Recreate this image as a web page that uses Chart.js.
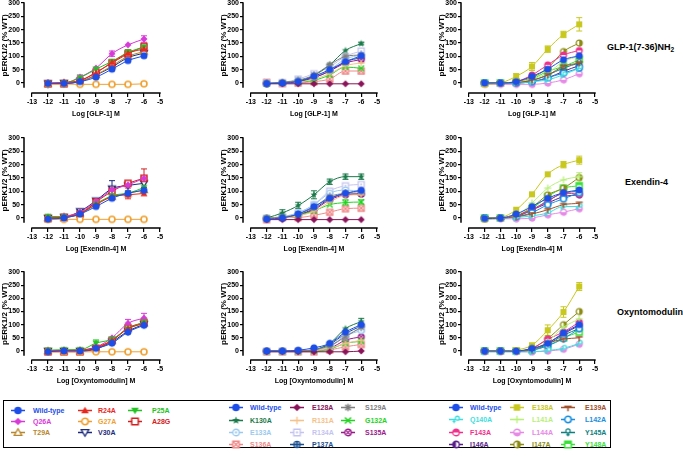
<!DOCTYPE html>
<html>
<head>
<meta charset="utf-8">
<script src="https://cdn.jsdelivr.net/npm/chart.js@4.4.1/dist/chart.umd.min.js"></script>
<style>
  html, body { margin:0; padding:0; background:#fff; }
  body { position:relative; width:683px; height:458px; overflow:hidden; font-family:"Liberation Sans", Arial, sans-serif; }
  canvas.panel { position:absolute; }
  .ligand { position:absolute; font-size:9px; font-weight:bold; color:#000; white-space:nowrap; line-height:12px; }
  .ligand sub { font-size:6.5px; vertical-align:-2px; line-height:0; }
  #legendBox { position:absolute; left:3px; top:400px; width:608px; height:48px; box-sizing:border-box; border:1.5px solid #000; }
  .lgMark { position:absolute; }
  .lgText { position:absolute; font-size:7px; font-weight:bold; white-space:nowrap; line-height:9px; }
</style>
</head>
<body>
<div id="legendBox"></div>
<script>
// ---------------- DATA ----------------
const doses = [-12, -11, -10, -9, -8, -7, -6];
const xTickValues = [-13, -12, -11, -10, -9, -8, -7, -6, -5];
const yTickValues = [0, 50, 100, 150, 200, 250, 300];
const xAxisTitles = ['Log [GLP-1] M', 'Log [Exendin-4] M', 'Log [Oxyntomodulin] M'];
const yAxisTitle = 'pERK1/2 (% WT)';
const ligandLabels = ['GLP-1(7-36)NH', 'Exendin-4', 'Oxyntomodulin'];
const ligandSubscripts = ['2', '', ''];

const groupA_names = ['Wild-type', 'R24A', 'P25A', 'Q26A', 'G27A', 'A28G', 'T29A', 'V30A'];
const groupB_names = ['Wild-type', 'E128A', 'S129A', 'K130A', 'R131A', 'G132A', 'E133A', 'R134A', 'S135A', 'S136A', 'P137A'];
const groupC_names = ['Wild-type', 'E138A', 'E139A', 'Q140A', 'L141A', 'L142A', 'F143A', 'L144A', 'Y145A', 'I146A', 'I147A', 'Y148A'];

// values at doses -12 ... -6 (rows follow the name lists)
const glp1_groupA_values = [
  [-2, -2, 5, 22, 52, 84, 102],
  [0, 2, 10, 38, 78, 112, 128],
  [-2, 0, 20, 52, 81, 115, 135],
  [0, 0, 22, 56, 110, 143, 165],
  [-4, -4, -5, -5, -5, -5, -3],
  [-3, -3, 8, 40, 75, 110, 137],
  [-2, 0, 5, 30, 65, 100, 118],
  [-2, 0, 5, 30, 60, 95, 112]
];
const glp1_groupB_values = [
  [-2, 0, 5, 25, 50, 80, 102],
  [-3, -3, -3, -3, -3, -3, -3],
  [0, 2, 10, 30, 68, 100, 105],
  [-3, 2, 8, 28, 68, 122, 148],
  [0, 0, 3, 15, 35, 65, 75],
  [-3, 0, 3, 10, 30, 60, 55],
  [-2, 0, 10, 25, 50, 90, 105],
  [0, 2, 15, 35, 60, 100, 120],
  [-2, 0, 5, 20, 45, 75, 88],
  [3, -2, 0, 5, 15, 45, 45],
  [-2, 0, 5, 20, 45, 80, 95]
];
const glp1_groupC_values = [
  [0, 0, 5, 25, 52, 87, 102],
  [-5, 0, 25, 62, 127, 182, 220],
  [0, 0, 2, 10, 30, 62, 75],
  [0, 0, 0, 5, 12, 31, 56],
  [0, 0, 3, 15, 37, 81, 100],
  [0, 0, 0, 5, 20, 37, 56],
  [0, 0, 5, 30, 68, 105, 122],
  [-5, -5, -5, -5, 0, 12, 35],
  [0, 0, 2, 10, 30, 56, 75],
  [0, 0, 0, 5, 19, 44, 65],
  [0, 0, 5, 20, 56, 118, 150],
  [0, 0, 3, 15, 44, 62, 87]
];
const ex4_groupA_values = [
  [-4, 0, 15, 43, 74, 93, 104],
  [0, 3, 18, 50, 80, 87, 92],
  [6, 5, 15, 52, 84, 93, 114],
  [0, 6, 22, 62, 105, 124, 149],
  [-5, -5, -5, -5, -5, -5, -5],
  [-2, 2, 15, 60, 100, 130, 149],
  [0, 2, 18, 55, 80, 93, 105],
  [0, 3, 25, 65, 110, 122, 130]
];
const ex4_groupB_values = [
  [-4, 0, 15, 43, 74, 93, 104],
  [-6, -6, -6, -6, -6, -6, -6],
  [0, 3, 15, 40, 80, 93, 100],
  [0, 19, 47, 87, 136, 155, 155],
  [0, 0, 8, 25, 60, 85, 87],
  [-2, 2, 10, 27, 50, 58, 60],
  [0, 5, 20, 50, 93, 105, 100],
  [0, 5, 19, 50, 101, 121, 126],
  [-2, 2, 12, 31, 68, 87, 90],
  [-6, 2, 2, 10, 22, 35, 37],
  [-2, 2, 12, 35, 72, 90, 90]
];
const ex4_groupC_values = [
  [-2, 0, 15, 43, 74, 95, 105],
  [-6, 0, 31, 89, 164, 200, 217],
  [0, 0, 5, 15, 31, 50, 55],
  [0, 0, 2, 8, 19, 43, 43],
  [0, 0, 8, 56, 112, 143, 155],
  [0, 0, 5, 20, 50, 72, 95],
  [0, 0, 8, 31, 62, 93, 90],
  [-3, -3, -3, 0, 12, 22, 35],
  [0, 0, 5, 30, 65, 93, 100],
  [0, 0, 8, 30, 56, 80, 87],
  [0, 0, 8, 40, 87, 112, 152],
  [0, 0, 8, 35, 80, 112, 121]
];
const oxm_groupA_values = [
  [-3, 0, 0, 10, 30, 72, 98],
  [0, 2, 3, 15, 40, 85, 105],
  [3, 5, 5, 30, 45, 85, 110],
  [0, 2, 3, 15, 50, 105, 125],
  [-3, -3, -3, -3, -3, -3, -3],
  [-3, -3, -3, 10, 40, 88, 108],
  [0, 0, 0, 10, 40, 85, 105],
  [0, 0, 0, 8, 35, 75, 102]
];
const oxm_groupB_values = [
  [0, 0, 3, 12, 29, 72, 100],
  [-3, -3, -3, -3, -3, -3, 0],
  [0, 0, 0, 5, 20, 54, 91],
  [0, 0, 0, 4, 29, 85, 112],
  [0, 0, 0, 2, 10, 29, 41],
  [-2, -2, -2, 0, 7, 29, 37],
  [0, 0, 0, 3, 15, 57, 78],
  [0, 0, 0, 3, 18, 60, 85],
  [0, 0, 0, 2, 10, 41, 54],
  [-3, -3, -3, -3, 4, 16, 25],
  [0, 0, 0, 5, 25, 66, 95]
];
const oxm_groupC_values = [
  [0, 0, 0, 10, 29, 69, 100],
  [0, 0, 4, 22, 79, 148, 245],
  [0, 0, 0, 5, 30, 45, 50],
  [-3, -3, -3, -3, 2, 10, 29],
  [0, 0, 0, 5, 35, 90, 122],
  [0, 0, 0, 3, 20, 47, 85],
  [0, 0, 0, 10, 45, 72, 110],
  [-3, -3, -3, -3, 0, 7, 26],
  [0, 0, 0, 5, 25, 60, 85],
  [0, 0, 0, 5, 30, 65, 97],
  [0, 0, 0, 10, 47, 100, 150],
  [0, 0, 0, 5, 20, 50, 72]
];

// error bars: [series index, dose index, SEM]
const glp1_groupA_err = [[3, 6, 12], [3, 4, 10], [5, 6, 10], [2, 5, 10], [3, 2, 8]];
const glp1_groupB_err = [[3, 6, 5], [7, 6, 8]];
const glp1_groupC_err = [[1, 6, 25], [1, 5, 12], [1, 4, 12], [1, 3, 15], [1, 2, 10]];
const ex4_groupA_err = [[5, 6, 35], [1, 5, 15], [7, 4, 30], [3, 5, 12], [5, 2, 10]];
const ex4_groupB_err = [[3, 6, 10], [3, 5, 10], [3, 4, 10], [3, 3, 15], [3, 2, 12], [3, 1, 12], [5, 5, 10], [5, 6, 8]];
const ex4_groupC_err = [[1, 6, 15], [1, 5, 12], [4, 6, 15]];
const oxm_groupA_err = [[3, 6, 18], [3, 5, 15], [2, 3, 12]];
const oxm_groupB_err = [[3, 6, 12]];
const oxm_groupC_err = [[1, 6, 15], [1, 5, 20], [1, 4, 20]];

// ---------------- STYLES ----------------
const groupA_colors = ['#1e4ee8', '#e8281e', '#22c322', '#d83ad8', '#f0a030', '#d22020', '#b8862b', '#1c2a7a'];
const groupA_markers = ['circle', 'triUp', 'triDown', 'diamond', 'circleOpen', 'squareOpen', 'triUpOpen', 'triDownOpen'];
const groupB_colors = ['#1e4ee8', '#8a1459', '#7f7f7f', '#1a7a4a', '#f5c28a', '#22d422', '#9ccaee', '#c4c4f0', '#9a1a8a', '#f08a8a', '#1a4f8f'];
const groupB_markers = ['circle', 'diamond', 'asterisk', 'star', 'plus', 'xmark', 'circleDot', 'squareDot', 'circleX', 'squareX', 'circleDots'];
const groupC_colors = ['#1e4ee8', '#c8c81e', '#a0522d', '#3ddede', '#b8f07a', '#1a8fe0', '#f0308c', '#e68ae6', '#0e7f7f', '#5a1e8a', '#8c8c14', '#3ae03a'];
const groupC_markers = ['circle', 'square', 'tee', 'hook', 'plus', 'circleOpen', 'halfTop', 'halfBottom', 'venus', 'halfLeft', 'halfRight', 'squareHalf'];

// ---------------- LAYOUT ----------------
const rowTop300 = [3, 138, 272];
const rowZero = [83, 218, 351];
const rowXAxisY = [93, 228, 360];
const colAxisX = [24, 243, 461];
const colX5 = [160, 377, 595];
const ligandLeft = [607, 625, 617];
const ligandMidY = [47, 182, 312];

const legendMarkX = [[18, 85, 135], [236, 297, 348], [456, 517, 568]];
const legendTextX = [[33, 98, 152], [250, 312, 365], [470, 532, 585]];
const legendRowY = [[410, 421, 432], [407, 420, 432, 444], [407, 419, 432, 444]];

// ---------------- MARKERS ----------------
function makeMarker(kind, color, r) {
  const s = Math.ceil(2 * r + 3);
  const cv = document.createElement('canvas');
  cv.width = s; cv.height = s;
  const g = cv.getContext('2d');
  const m = s / 2;
  g.lineWidth = 1.3; g.strokeStyle = color; g.fillStyle = color;
  const circle = (rr, cx, cy) => { g.beginPath(); g.arc(cx === undefined ? m : cx, cy === undefined ? m : cy, rr, 0, 2 * Math.PI); };
  const square = () => { g.beginPath(); g.rect(m - r * 0.85, m - r * 0.85, r * 1.7, r * 1.7); };
  const triUp = () => { g.beginPath(); g.moveTo(m, m - r); g.lineTo(m + r, m + r * 0.75); g.lineTo(m - r, m + r * 0.75); g.closePath(); };
  const triDown = () => { g.beginPath(); g.moveTo(m, m + r); g.lineTo(m + r, m - r * 0.75); g.lineTo(m - r, m - r * 0.75); g.closePath(); };
  const diamond = () => { g.beginPath(); g.moveTo(m, m - r); g.lineTo(m + r, m); g.lineTo(m, m + r); g.lineTo(m - r, m); g.closePath(); };
  const white = () => { g.fillStyle = '#fff'; g.fill(); g.fillStyle = color; };
  const line = (x1, y1, x2, y2) => { g.beginPath(); g.moveTo(x1, y1); g.lineTo(x2, y2); g.stroke(); };
  switch (kind) {
    case 'circle': circle(r); g.fill(); break;
    case 'circleOpen': circle(r * 0.85); white(); g.lineWidth = 1.6; g.stroke(); break;
    case 'triUp': triUp(); g.fill(); break;
    case 'triDown': triDown(); g.fill(); break;
    case 'triUpOpen': triUp(); white(); g.stroke(); break;
    case 'triDownOpen': triDown(); white(); g.stroke(); break;
    case 'diamond': diamond(); g.fill(); break;
    case 'square': square(); g.fill(); break;
    case 'squareOpen': square(); white(); g.lineWidth = 1.5; g.stroke(); break;
    case 'star': {
      g.beginPath();
      for (let i = 0; i < 10; i++) {
        const a = -Math.PI / 2 + i * Math.PI / 5;
        const rr = i % 2 === 0 ? r * 1.05 : r * 0.45;
        g.lineTo(m + rr * Math.cos(a), m + rr * Math.sin(a));
      }
      g.closePath(); g.fill(); break;
    }
    case 'asterisk':
      for (let i = 0; i < 4; i++) { const a = i * Math.PI / 4; line(m - r * Math.cos(a), m - r * Math.sin(a), m + r * Math.cos(a), m + r * Math.sin(a)); }
      break;
    case 'plus': line(m - r, m, m + r, m); line(m, m - r, m, m + r); break;
    case 'xmark': g.lineWidth = 1.5; line(m - r * 0.8, m - r * 0.8, m + r * 0.8, m + r * 0.8); line(m - r * 0.8, m + r * 0.8, m + r * 0.8, m - r * 0.8); break;
    case 'circleDot': circle(r * 0.85); white(); g.stroke(); circle(r * 0.3); g.fill(); break;
    case 'squareDot': square(); white(); g.stroke(); circle(r * 0.3); g.fill(); break;
    case 'circleX': circle(r * 0.85); white(); g.stroke();
      line(m - r * 0.55, m - r * 0.55, m + r * 0.55, m + r * 0.55); line(m - r * 0.55, m + r * 0.55, m + r * 0.55, m - r * 0.55); break;
    case 'squareX': square(); white(); g.stroke();
      line(m - r * 0.85, m - r * 0.85, m + r * 0.85, m + r * 0.85); line(m - r * 0.85, m + r * 0.85, m + r * 0.85, m - r * 0.85); break;
    case 'circleDots': circle(r); g.fill(); g.fillStyle = '#fff';
      [[-0.4, -0.4], [0.4, -0.4], [-0.4, 0.4], [0.4, 0.4]].forEach(([dx, dy]) => { circle(r * 0.2, m + dx * r, m + dy * r); g.fill(); });
      g.fillStyle = color; break;
    case 'tee': g.lineWidth = 1.5; line(m - r, m - r * 0.3, m + r, m - r * 0.3); line(m, m - r * 0.3, m, m + r); break;
    case 'hook': circle(r * 0.5, m + r * 0.35, m - r * 0.35); white(); g.stroke(); line(m - r * 0.5, m - r * 0.1, m - r * 0.5, m + r); line(m - r * 0.9, m + r * 0.5, m - r * 0.1, m + r * 0.5); break;
    case 'halfTop': circle(r * 0.85); white(); g.stroke(); g.beginPath(); g.arc(m, m, r * 0.85, Math.PI, 2 * Math.PI); g.closePath(); g.fill(); break;
    case 'halfBottom': circle(r * 0.85); white(); g.stroke(); g.beginPath(); g.arc(m, m, r * 0.85, 0, Math.PI); g.closePath(); g.fill(); break;
    case 'halfLeft': circle(r * 0.85); white(); g.stroke(); g.beginPath(); g.arc(m, m, r * 0.85, Math.PI / 2, 3 * Math.PI / 2); g.closePath(); g.fill(); break;
    case 'halfRight': circle(r * 0.85); white(); g.stroke(); g.beginPath(); g.arc(m, m, r * 0.85, -Math.PI / 2, Math.PI / 2); g.closePath(); g.fill(); break;
    case 'venus': circle(r * 0.55, m, m - r * 0.4); white(); g.stroke(); line(m, m + r * 0.15, m, m + r); line(m - r * 0.45, m + r * 0.6, m + r * 0.45, m + r * 0.6); break;
    case 'squareHalf': square(); white(); g.lineWidth = 1.5; g.stroke(); g.fillRect(m - r * 0.85, m - r * 0.85, r * 1.7, r * 0.7); break;
  }
  return cv;
}

// ---------------- PLUGINS ----------------
function makeErrorPlugin(list) {
  return {
    id: 'errBars',
    beforeDatasetsDraw(chart) {
      const { ctx, scales: { x, y } } = chart;
      ctx.save(); ctx.lineWidth = 1;
      list.forEach(([si, di, e]) => {
        const ds = chart.data.datasets[si];
        const pt = ds.data[di];
        const px = x.getPixelForValue(pt.x);
        const y1 = y.getPixelForValue(pt.y + e), y2 = y.getPixelForValue(pt.y - e);
        ctx.strokeStyle = ds.borderColor;
        ctx.beginPath();
        ctx.moveTo(px, y1); ctx.lineTo(px, y2);
        ctx.moveTo(px - 3, y1); ctx.lineTo(px + 3, y1);
        ctx.moveTo(px - 3, y2); ctx.lineTo(px + 3, y2);
        ctx.stroke();
      });
      ctx.restore();
    }
  };
}
function makeAxesPlugin(xTitle) {
  return {
    id: 'prismAxes',
    afterDraw(chart) {
      const { ctx, scales: { x, y }, chartArea } = chart;
      ctx.save();
      ctx.strokeStyle = '#000'; ctx.lineWidth = 1.5;
      ctx.beginPath();
      ctx.moveTo(chartArea.left, y.getPixelForValue(300) - 0.7);
      ctx.lineTo(chartArea.left, y.getPixelForValue(-18));
      ctx.moveTo(x.getPixelForValue(xTickValues[0]) - 0.7, chartArea.bottom);
      ctx.lineTo(x.getPixelForValue(xTickValues[xTickValues.length - 1]) + 0.7, chartArea.bottom);
      ctx.stroke();
      ctx.fillStyle = '#000';
      ctx.textAlign = 'center'; ctx.textBaseline = 'middle';
      ctx.font = 'bold 7px "Liberation Sans", Arial, sans-serif';
      ctx.fillText(xTitle, (x.getPixelForValue(-13) + x.getPixelForValue(-5)) / 2, chartArea.bottom + 21);
      ctx.translate(chartArea.left - 19, (y.getPixelForValue(300) + y.getPixelForValue(-18)) / 2);
      ctx.rotate(-Math.PI / 2);
      ctx.font = 'bold 8px "Liberation Sans", Arial, sans-serif';
      ctx.fillText(yAxisTitle, 0, 0);
      ctx.restore();
    }
  };
}

// ---------------- BUILD ----------------
Chart.defaults.font.family = '"Liberation Sans", Arial, sans-serif';
Chart.defaults.color = '#000';

const panelValues = [
  [glp1_groupA_values, glp1_groupB_values, glp1_groupC_values],
  [ex4_groupA_values, ex4_groupB_values, ex4_groupC_values],
  [oxm_groupA_values, oxm_groupB_values, oxm_groupC_values]
];
const panelErr = [
  [glp1_groupA_err, glp1_groupB_err, glp1_groupC_err],
  [ex4_groupA_err, ex4_groupB_err, ex4_groupC_err],
  [oxm_groupA_err, oxm_groupB_err, oxm_groupC_err]
];
const groupNames = [groupA_names, groupB_names, groupC_names];
const groupColors = [groupA_colors, groupB_colors, groupC_colors];
const groupMarkers = [groupA_markers, groupB_markers, groupC_markers];

function buildPanel(r, c) {
  const values = panelValues[r][c];
  const top300 = rowTop300[r], zero = rowZero[r], axisY = rowXAxisY[r];
  const axisX = colAxisX[c], x5 = colX5[c];
  const ppu = (zero - top300) / 300;
  const yMin = -(axisY - zero) / ppu;
  const xMin = -13.5;
  const left = axisX - 25, top = top300 - 6;
  const W = x5 + 12 - left, H = axisY - top + 30;
  const cv = document.createElement('canvas');
  cv.className = 'panel';
  cv.width = W; cv.height = H;
  cv.style.left = left + 'px'; cv.style.top = top + 'px';
  cv.style.width = W + 'px'; cv.style.height = H + 'px';
  document.body.appendChild(cv);

  const datasets = values.map((vals, i) => ({
    label: groupNames[c][i],
    data: doses.map((d, k) => ({ x: d, y: vals[k] })),
    borderColor: groupColors[c][i],
    backgroundColor: groupColors[c][i],
    borderWidth: 1,
    pointStyle: makeMarker(groupMarkers[c][i], groupColors[c][i], 3.5),
    pointRadius: 3.5,
    cubicInterpolationMode: 'monotone',
    fill: false
  }));

  new Chart(cv, {
    type: 'line',
    data: { datasets },
    options: {
      responsive: false, animation: false, devicePixelRatio: 1, events: [],
      layout: { padding: { top: 6, right: 12, bottom: 0, left: 0 } },
      plugins: { legend: { display: false }, tooltip: { enabled: false } },
      scales: {
        x: {
          type: 'linear', min: xMin, max: -5,
          afterBuildTicks: s => { s.ticks = xTickValues.map(v => ({ value: v })); },
          afterFit: s => { s.height = 30; },
          grid: { drawOnChartArea: false, drawTicks: true, tickLength: 4, color: '#000', lineWidth: 1.2 },
          border: { display: false },
          ticks: { font: { size: 7, weight: 'bold' }, color: '#000', padding: 1, maxRotation: 0, autoSkip: false }
        },
        y: {
          type: 'linear', min: yMin, max: 300,
          afterBuildTicks: s => { s.ticks = yTickValues.map(v => ({ value: v })); },
          afterFit: s => { s.width = 25; },
          grid: { drawOnChartArea: false, drawTicks: true, tickLength: 3, color: '#000', lineWidth: 1.2 },
          border: { display: false },
          ticks: { font: { size: 7, weight: 'bold' }, color: '#000', padding: 1, autoSkip: false }
        }
      }
    },
    plugins: [makeErrorPlugin(panelErr[r][c]), makeAxesPlugin(xAxisTitles[r])]
  });
}

for (let r = 0; r < 3; r++) for (let c = 0; c < 3; c++) buildPanel(r, c);

// ligand labels
ligandLabels.forEach((t, i) => {
  const d = document.createElement('div');
  d.className = 'ligand';
  d.style.left = ligandLeft[i] + 'px';
  d.style.top = (ligandMidY[i] - 6) + 'px';
  d.appendChild(document.createTextNode(t));
  if (ligandSubscripts[i]) { const s = document.createElement('sub'); s.textContent = ligandSubscripts[i]; d.appendChild(s); }
  document.body.appendChild(d);
});

// legend
for (let gi = 0; gi < 3; gi++) {
  groupNames[gi].forEach((name, i) => {
    const row = Math.floor(i / 3), col = i % 3;
    const color = groupColors[gi][i];
    const cy = legendRowY[gi][row];
    const mk = document.createElement('canvas');
    mk.className = 'lgMark';
    mk.width = 16; mk.height = 11;
    mk.style.left = (legendMarkX[gi][col] - 8) + 'px';
    mk.style.top = (cy - 5.5) + 'px';
    const g = mk.getContext('2d');
    g.strokeStyle = color; g.lineWidth = 1.5;
    g.beginPath(); g.moveTo(1, 5.5); g.lineTo(15, 5.5); g.stroke();
    const img = makeMarker(groupMarkers[gi][i], color, 3.8);
    g.drawImage(img, 8 - img.width / 2, 5.5 - img.height / 2);
    document.body.appendChild(mk);
    const tx = document.createElement('div');
    tx.className = 'lgText';
    tx.style.left = legendTextX[gi][col] + 'px';
    tx.style.top = (cy - 4.5) + 'px';
    tx.style.color = color;
    tx.textContent = name;
    document.body.appendChild(tx);
  });
}
</script>
</body>
</html>
